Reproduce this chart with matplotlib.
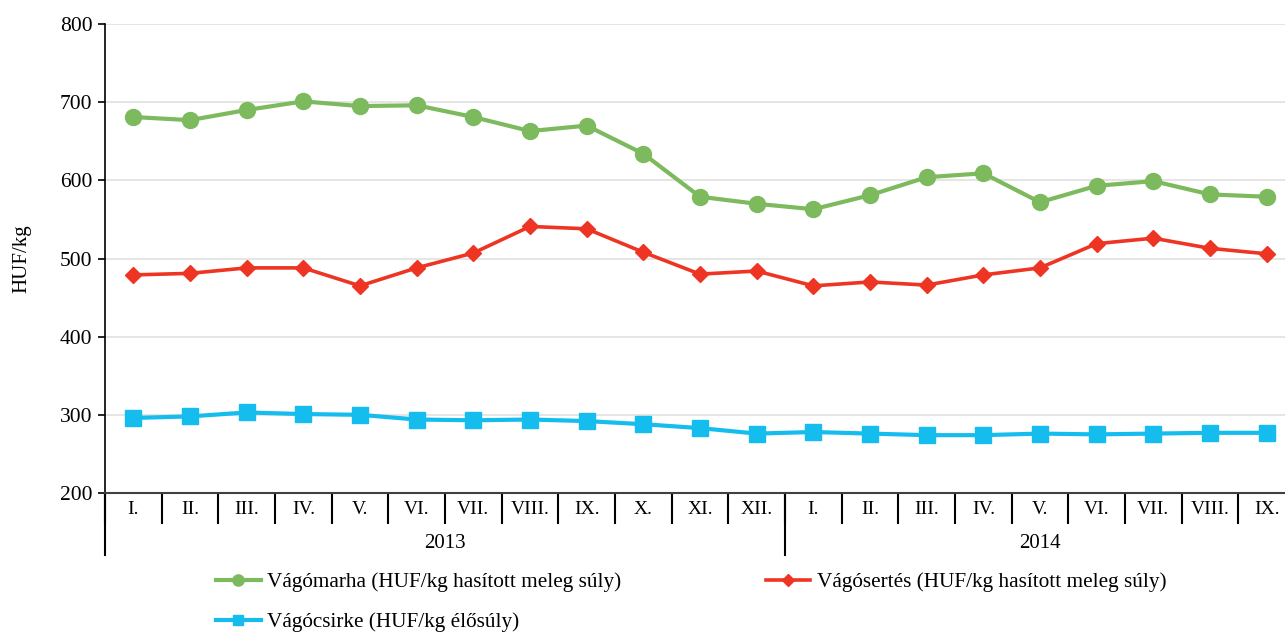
import matplotlib
matplotlib.use("Agg")
import matplotlib.pyplot as plt
from matplotlib.lines import Line2D
import matplotlib.transforms as mtransforms

plt.rcParams['font.family'] = ['Liberation Serif', 'DejaVu Serif']

months = ["I.", "II.", "III.", "IV.", "V.", "VI.", "VII.", "VIII.", "IX.", "X.", "XI.", "XII.",
          "I.", "II.", "III.", "IV.", "V.", "VI.", "VII.", "VIII.", "IX."]
years = ["2013", "2014"]
year_counts = [12, 9]

marha = [681, 677, 690, 701, 695, 696, 681, 663, 670, 634, 579, 570,
         563, 581, 604, 609, 572, 593, 599, 582, 579]
sertes = [479, 481, 488, 488, 465, 488, 507, 541, 538, 508, 480, 484,
          465, 470, 466, 479, 488, 519, 526, 513, 506]
csirke = [296, 298, 303, 301, 300, 294, 293, 294, 292, 288, 283, 276,
          278, 276, 274, 274, 276, 275, 276, 277, 277]

labels = ["Vágómarha (HUF/kg hasított meleg súly)",
          "Vágósertés (HUF/kg hasított meleg súly)",
          "Vágócsirke (HUF/kg élősúly)"]
colors = ["#7CBA5D", "#EE3524", "#14BDEE"]

fig = plt.figure(figsize=(12.85, 6.32), dpi=100)
ax = fig.add_axes([105/1285, 1 - 493/632, (1295-105)/1285, (493-24)/632])

x = list(range(len(months)))
l1, = ax.plot(x, marha, color=colors[0], lw=3, marker='o', ms=11.5, zorder=3)
l2, = ax.plot(x, sertes, color=colors[1], lw=2.6, marker='D', ms=8.5, zorder=3)
l3, = ax.plot(x, csirke, color=colors[2], lw=3, marker='s', ms=11, zorder=3)

ax.set_ylim(200, 800)
ax.set_xlim(-0.5, len(months) - 0.5)
ax.set_yticks(range(200, 801, 100))
ax.yaxis.grid(True, color='#E0E0E0', lw=1.2)
ax.set_axisbelow(True)
for s in ['top', 'right']:
    ax.spines[s].set_visible(False)
ax.spines['left'].set_color('black')
ax.spines['left'].set_linewidth(1.2)
ax.spines['bottom'].set_color('#404040')
ax.spines['bottom'].set_linewidth(1.5)
ax.tick_params(axis='y', labelsize=15.5, length=5, width=1.2, pad=4)
ax.set_ylabel("HUF/kg", fontsize=15)
ax.yaxis.set_label_coords(-0.062, 0.5)

ax.set_xticks(x)
ax.set_xticklabels(months, fontsize=14)
ax.tick_params(axis='x', which='major', length=0, pad=6)
ax.set_xticks([i - 0.5 for i in range(len(months) + 1)], minor=True)
ax.tick_params(axis='x', which='minor', length=22, width=1.5, color='black')

trans = mtransforms.blended_transform_factory(ax.transData, ax.transAxes)
start = 0
for yr, cnt in zip(years, year_counts):
    ax.add_line(Line2D([start - 0.5, start - 0.5], [0, -62/469], transform=trans,
                       color='black', lw=1.5, clip_on=False))
    ax.text(start + (cnt - 1) / 2, -50/469, yr, transform=trans, ha='center', va='center',
            fontsize=15)
    start += cnt

leg = fig.legend([l1, l3, l2], [labels[0], labels[2], labels[1]], loc='upper left',
                 bbox_to_anchor=(197/1285, 1 - 553/632),
                 ncol=2, frameon=False, fontsize=15.3, handlelength=2.1, markerscale=0.7,
                 columnspacing=6.8, labelspacing=0.95, handletextpad=0.3)

fig.savefig("out.png", dpi=100)
